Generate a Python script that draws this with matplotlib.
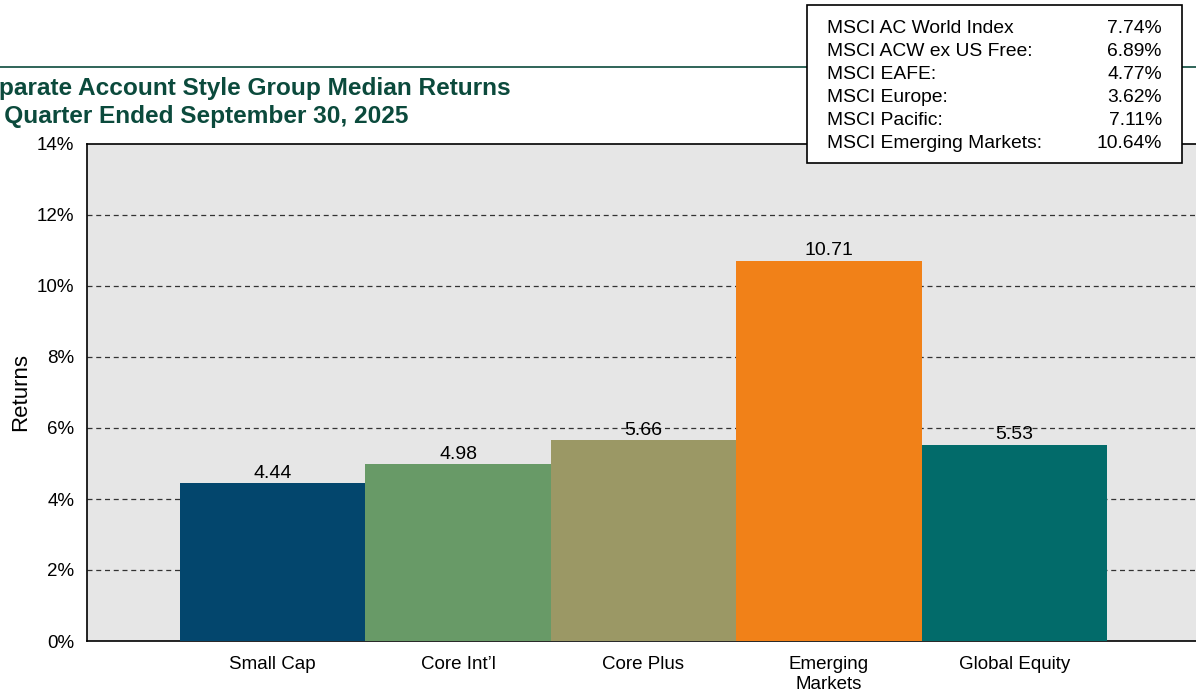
import matplotlib.pyplot as plt
import numpy as np

plt.rcParams['font.family'] = ['Liberation Sans', 'DejaVu Sans']

# --- data ---
categories = ['Small Cap', 'Core Int\u2019l', 'Core Plus', 'Emerging\nMarkets', 'Global Equity']
returns = [4.44, 4.98, 5.66, 10.71, 5.53]
bar_colors = ['#03466d', '#689a67', '#9b9865', '#f18118', '#026b6a']

index_names = ['MSCI AC World Index', 'MSCI ACW ex US Free:', 'MSCI EAFE:',
               'MSCI Europe:', 'MSCI Pacific:', 'MSCI Emerging Markets:']
index_values = [7.74, 6.89, 4.77, 3.62, 7.11, 10.64]

yticks = [0, 2, 4, 6, 8, 10, 12, 14]

W, H = 1196, 692
fig = plt.figure(figsize=(W / 100, H / 100), dpi=100)

# axes runs off the right edge of the picture, like the original
ax = fig.add_axes([87 / W, (H - 641) / H, 1113 / W, 497 / H])
ax.set_facecolor('#e6e6e6')

x = np.arange(len(categories))
bars = ax.bar(x, returns, width=1.0, color=bar_colors, zorder=3)
ax.bar_label(bars, labels=[f'{v:.2f}' for v in returns], padding=1, fontsize=14, zorder=4)

ax.set_xlim(-1, 5)
ax.set_ylim(0, 14)
ax.set_yticks(yticks)
ax.set_yticklabels([f'{t}%' for t in yticks], fontsize=13.5)
ax.set_xticks(x)
ax.set_xticklabels(categories, fontsize=13.5, linespacing=1.2)
ax.tick_params(length=0, pad=9)
ax.tick_params(axis='x', pad=11)

for t in yticks[1:-1]:
    ax.axhline(t, color='#333333', linestyle=(0, (4, 3)), linewidth=0.9, zorder=1)

for s in ax.spines.values():
    s.set_color('black')
    s.set_linewidth(1.2)

ax.set_ylabel('Returns', fontsize=16)
ax.yaxis.set_label_coords(-56 / 1113, 0.5)

# header rule and title (cut at left edge as in source)
fig.add_artist(plt.Line2D([0, 1], [1 - 67 / H, 1 - 67 / H], color='#0c4a3c', linewidth=1.2,
                          transform=fig.transFigure))
title_color = '#0b4a3c'
fig.text(-31 / W, 1 - 88 / H, 'Separate Account Style Group Median Returns', fontsize=17.6,
         fontweight='bold', color=title_color, ha='left', va='center')
fig.text(-35 / W, 1 - 117 / H, 'for Quarter Ended September 30, 2025', fontsize=17.6,
         fontweight='bold', color=title_color, ha='left', va='center')

# index returns box
box = plt.Rectangle((807 / W, 1 - 163 / H), (1182 - 807) / W, (163 - 5) / H,
                    transform=fig.transFigure, facecolor='white', edgecolor='black',
                    linewidth=1.2, zorder=5)
fig.add_artist(box)
for i, (name, val) in enumerate(zip(index_names, index_values)):
    yy = 1 - (28.5 + i * 23) / H
    fig.text(827 / W, yy, name, fontsize=13.9, ha='left', va='center', zorder=6)
    fig.text(1162 / W, yy, f'{val:.2f}%', fontsize=13.9, ha='right', va='center', zorder=6)

fig.savefig('out.png', dpi=100)
